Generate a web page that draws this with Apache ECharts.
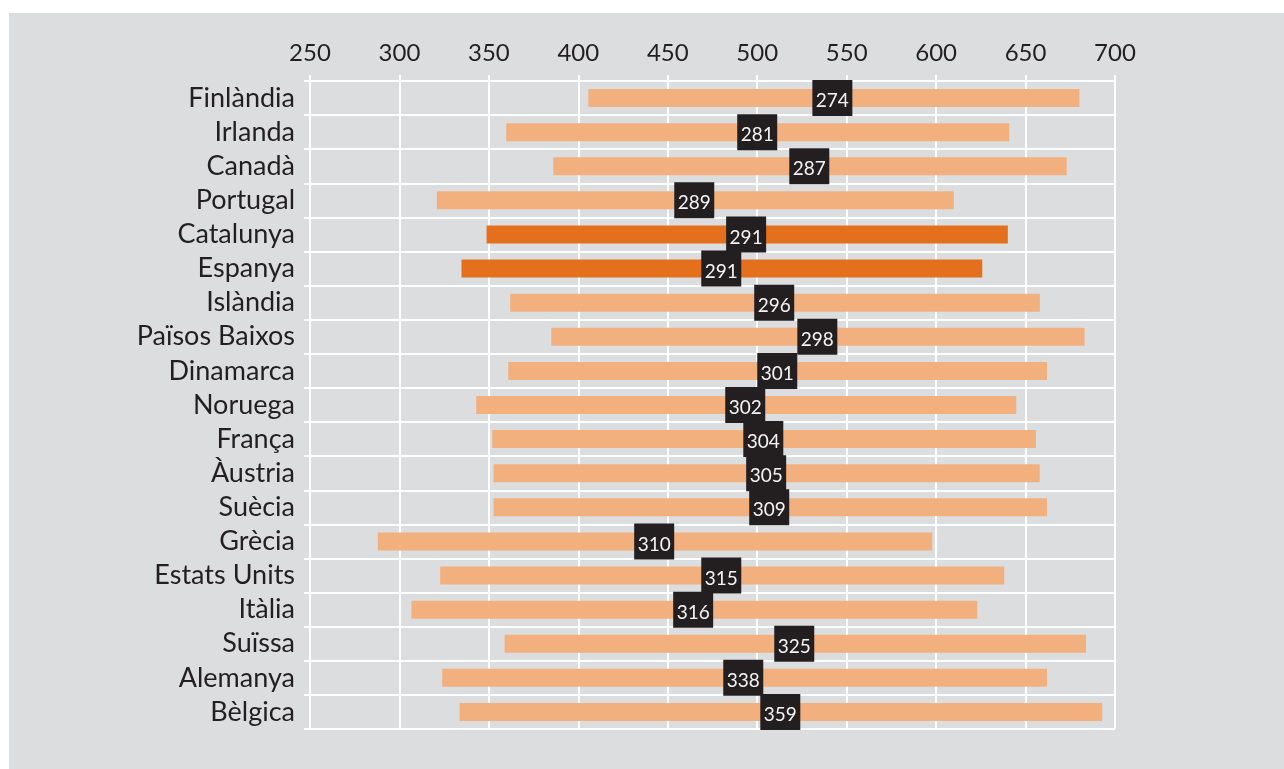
<!DOCTYPE html>
<html>
<head>
<meta charset="utf-8">
<script src="https://cdn.jsdelivr.net/npm/echarts@6/dist/echarts.min.js"></script>
<style>
  html, body { margin: 0; padding: 0; background: #fff; }
  #chart { position: absolute; left: 9px; top: 13px; width: 1275px; height: 756px; background: #dcdddf; }
</style>
</head>
<body>
<div id="chart"></div>
<script>
// països (de dalt a baix)
var categories = ['Finlàndia', 'Irlanda', 'Canadà', 'Portugal', 'Catalunya', 'Espanya', 'Islàndia',
  'Països Baixos', 'Dinamarca', 'Noruega', 'França', 'Àustria', 'Suècia', 'Grècia', 'Estats Units',
  'Itàlia', 'Suïssa', 'Alemanya', 'Bèlgica'];
// extrem inferior de la barra
var lows = [405.6, 359.7, 386.0, 320.9, 348.7, 334.7, 361.9, 384.9, 360.8, 342.9,
  351.9, 352.6, 352.6, 287.9, 322.8, 306.7, 358.8, 323.9, 333.6];
// extrem superior de la barra
var highs = [680.1, 640.9, 673.0, 609.9, 640.1, 625.8, 658.0, 683.0, 662.0, 644.8,
  655.8, 657.9, 662.0, 597.8, 638.1, 623.0, 683.8, 662.0, 692.9];
// posició de la caixa negra
var means = [542.0, 500.0, 529.1, 464.8, 493.8, 479.9, 509.5, 533.6, 511.2, 493.3,
  503.4, 505.0, 506.7, 442.4, 479.9, 464.2, 520.7, 492.2, 512.9];
// valor escrit a la caixa
var rangeLabels = ['274', '281', '287', '289', '291', '291', '296', '298', '301', '302',
  '304', '305', '309', '310', '315', '316', '325', '338', '359'];
var highlighted = ['Catalunya', 'Espanya'];

var textColor = '#231f20';
var myChart = echarts.init(document.getElementById('chart'));

var barData = categories.map(function (c, i) { return [i, lows[i], highs[i]]; });
var boxData = categories.map(function (c, i) { return [i, means[i], rangeLabels[i]]; });

myChart.setOption({
  animation: false,
  grid: { left: 301, top: 68, right: 169, bottom: 40 },
  xAxis: {
    type: 'value',
    position: 'top',
    min: 250,
    max: 700,
    interval: 50,
    axisLine: { show: false },
    axisTick: { show: true, length: 6, lineStyle: { color: '#fff', width: 2 } },
    axisLabel: { color: textColor, fontSize: 24, fontFamily: 'Lato', margin: 16 },
    splitLine: { show: true, lineStyle: { color: '#fff', width: 2 } }
  },
  yAxis: {
    type: 'category',
    inverse: true,
    data: categories,
    axisLine: { show: false },
    axisTick: { show: true, interval: 0, length: 6, lineStyle: { color: '#fff', width: 2 } },
    axisLabel: { color: textColor, fontSize: 27, fontFamily: 'Lato', interval: 0, margin: 15 },
    splitLine: { show: true, interval: 0, lineStyle: { color: '#fff', width: 2 } }
  },
  series: [{
    type: 'custom',
    encode: { x: [1, 2], y: 0 },
    data: barData,
    renderItem: function (params, api) {
      var idx = api.value(0);
      var start = api.coord([api.value(1), idx]);
      var end = api.coord([api.value(2), idx]);
      var h = 18;
      var hot = highlighted.indexOf(categories[idx]) >= 0;
      return {
        type: 'rect',
        shape: { x: start[0], y: start[1] - h / 2, width: end[0] - start[0], height: h },
        style: { fill: hot ? '#e4701e' : '#f2b07f' }
      };
    }
  }, {
    type: 'custom',
    encode: { x: 1, y: 0 },
    data: boxData,
    renderItem: function (params, api) {
      var idx = api.value(0);
      var p = api.coord([api.value(1), idx]);
      return {
        type: 'group',
        children: [{
          type: 'rect',
          shape: { x: p[0] - 20, y: p[1] - 18, width: 40, height: 36 },
          style: { fill: textColor }
        }, {
          type: 'text',
          style: {
            text: rangeLabels[idx],
            x: p[0], y: p[1] + 3,
            fill: '#f4f4f4',
            font: '19px Lato',
            align: 'center',
            verticalAlign: 'middle'
          }
        }]
      };
    }
  }]
});
</script>
</body>
</html>
